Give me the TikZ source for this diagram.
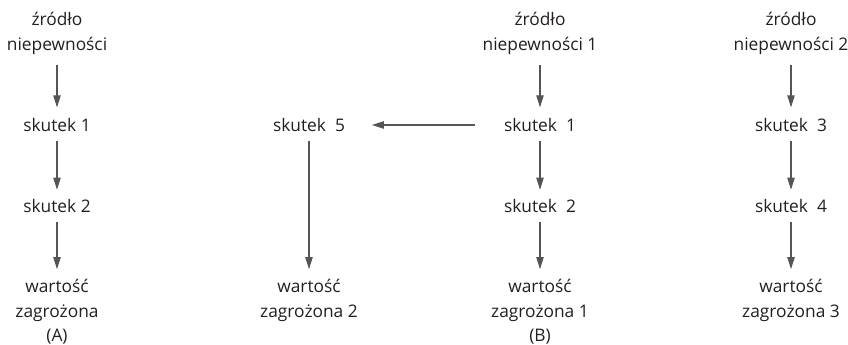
\documentclass[tikz,border=0pt]{standalone}
\usepackage{fontspec}
\setmainfont{Open Sans}
\usetikzlibrary{arrows.meta}
\definecolor{txt}{HTML}{231F20}
\definecolor{arr}{HTML}{555555}
\tikzset{
  lbl/.style={align=center, inner sep=0pt, text=txt, font=\fontsize{13pt}{18.75pt}\selectfont},
  flow/.style={draw=arr, line width=0.8pt, -{Triangle[length=9pt,width=5.5pt]}},
}
\begin{document}
\begin{tikzpicture}[x=0.75pt,y=-0.75pt]
\useasboundingbox (0,0) rectangle (848,345);
% column A
\node[lbl] (a0) at (57,33) {źródło\\niepewności};
\node[lbl] (a1) at (57,125) {skutek 1};
\node[lbl] (a2) at (57,206) {skutek 2};
\node[lbl] (a3) at (57,300) {wartość\\zagrożona};
\node[lbl] (aA) at (57,337) {(A)};
% column 5
\node[lbl] (s5) at (309,125) {skutek~~5};
\node[lbl] (w2) at (309,300) {wartość\\zagrożona 2};
% column B
\node[lbl] (b0) at (540,33) {źródło\\niepewności 1};
\node[lbl] (b1) at (540,125) {skutek~~1};
\node[lbl] (b2) at (540,206) {skutek~~2};
\node[lbl] (b3) at (540,300) {wartość\\zagrożona 1};
\node[lbl] (bB) at (540,337) {(B)};
% column C
\node[lbl] (c0) at (791,33) {źródło\\niepewności 2};
\node[lbl] (c1) at (791,125) {skutek~~3};
\node[lbl] (c2) at (791,206) {skutek~~4};
\node[lbl] (c3) at (791,300) {wartość\\zagrożona 3};
% arrows
\draw[flow, shorten <=8pt, shorten >=8pt] (a0.south) -- (a1.north);
\draw[flow, shorten <=7pt, shorten >=7pt] (a1.south) -- (a2.north);
\draw[flow, shorten <=7pt, shorten >=7pt] (a2.south) -- (a3.north);
\draw[flow, shorten <=8pt, shorten >=8pt] (b0.south) -- (b1.north);
\draw[flow, shorten <=7pt, shorten >=7pt] (b1.south) -- (b2.north);
\draw[flow, shorten <=7pt, shorten >=7pt] (b2.south) -- (b3.north);
\draw[flow, shorten <=8pt, shorten >=8pt] (c0.south) -- (c1.north);
\draw[flow, shorten <=7pt, shorten >=7pt] (c1.south) -- (c2.north);
\draw[flow, shorten <=7pt, shorten >=7pt] (c2.south) -- (c3.north);
\draw[flow, shorten <=21.5pt, shorten >=20pt] (b1.west) -- (s5.east);
\draw[flow, shorten <=7pt, shorten >=7pt] (s5.south) -- (w2.north);
\end{tikzpicture}
\end{document}
